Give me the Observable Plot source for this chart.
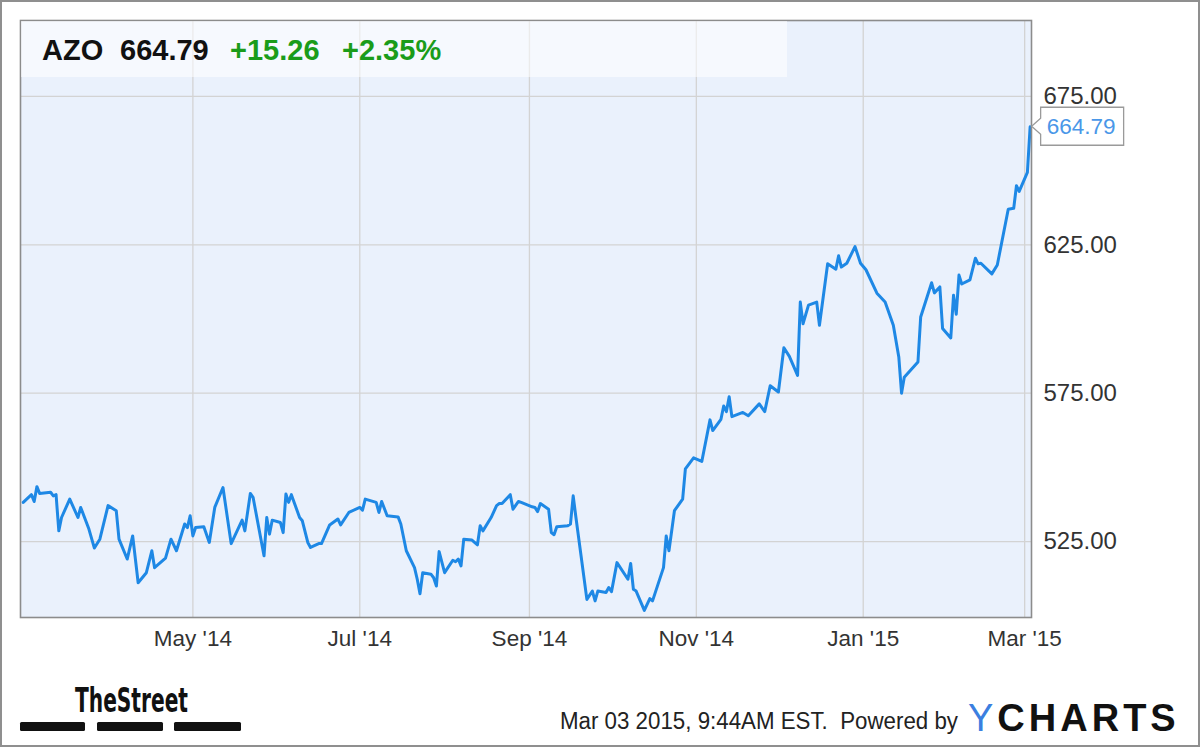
<!DOCTYPE html>
<html>
<head>
<meta charset="utf-8">
<script src="https://cdn.jsdelivr.net/npm/d3@7"></script>
<script src="https://cdn.jsdelivr.net/npm/@observablehq/plot@0.6"></script>
<style>
  html, body { margin: 0; padding: 0; background: #fff; }
  #chart { width: 1200px; height: 747px; position: relative; overflow: hidden; }
  svg { display: block; }
</style>
</head>
<body>
<div id="chart"></div>
<script>
// ---- Data ----
const dates = [
  "2014-02-28","2014-03-03","2014-03-04","2014-03-05","2014-03-06","2014-03-10","2014-03-11","2014-03-12","2014-03-13","2014-03-14",
  "2014-03-17","2014-03-20","2014-03-21","2014-03-24","2014-03-26","2014-03-28","2014-03-31","2014-04-03","2014-04-04","2014-04-07",
  "2014-04-09","2014-04-11","2014-04-14","2014-04-16","2014-04-17","2014-04-21","2014-04-23","2014-04-25","2014-04-28","2014-04-29",
  "2014-04-30","2014-05-01","2014-05-02","2014-05-05","2014-05-07","2014-05-09","2014-05-12","2014-05-15","2014-05-19","2014-05-20",
  "2014-05-22","2014-05-23","2014-05-27","2014-05-28","2014-05-29","2014-05-30","2014-06-02","2014-06-03","2014-06-04","2014-06-05",
  "2014-06-06","2014-06-09","2014-06-10","2014-06-12","2014-06-13","2014-06-16","2014-06-17","2014-06-20","2014-06-23","2014-06-24",
  "2014-06-27","2014-07-01","2014-07-02","2014-07-03","2014-07-07","2014-07-08","2014-07-09","2014-07-11","2014-07-15","2014-07-16",
  "2014-07-18","2014-07-21","2014-07-22","2014-07-23","2014-07-24","2014-07-27","2014-07-28","2014-07-29","2014-07-30","2014-08-01",
  "2014-08-04","2014-08-05","2014-08-06","2014-08-07","2014-08-08","2014-08-11","2014-08-13","2014-08-14","2014-08-15","2014-08-18",
  "2014-08-20","2014-08-21","2014-08-22","2014-08-25","2014-08-26","2014-08-28","2014-08-29","2014-09-02","2014-09-03","2014-09-04",
  "2014-09-05","2014-09-08","2014-09-09","2014-09-10","2014-09-11","2014-09-15","2014-09-16","2014-09-17","2014-09-18","2014-09-22",
  "2014-09-24","2014-09-25","2014-09-26","2014-09-29","2014-09-30","2014-10-01","2014-10-03","2014-10-07","2014-10-08","2014-10-09",
  "2014-10-10","2014-10-13","2014-10-15","2014-10-16","2014-10-20","2014-10-21","2014-10-22","2014-10-24","2014-10-27","2014-10-28",
  "2014-10-31","2014-11-03","2014-11-06","2014-11-07","2014-11-10","2014-11-11","2014-11-12","2014-11-13","2014-11-14","2014-11-18",
  "2014-11-20","2014-11-24","2014-11-26","2014-11-28","2014-12-01","2014-12-03","2014-12-05","2014-12-08","2014-12-09","2014-12-10",
  "2014-12-12","2014-12-15","2014-12-16","2014-12-19","2014-12-22","2014-12-23","2014-12-24","2014-12-26","2014-12-29","2014-12-31",
  "2015-01-02","2015-01-06","2015-01-09","2015-01-12","2015-01-14","2015-01-15","2015-01-16","2015-01-21","2015-01-22","2015-01-26",
  "2015-01-27","2015-01-29","2015-01-30","2015-02-02","2015-02-03","2015-02-04","2015-02-05","2015-02-06","2015-02-09","2015-02-11",
  "2015-02-12","2015-02-13","2015-02-17","2015-02-19","2015-02-23","2015-02-25","2015-02-26","2015-02-27","2015-03-02","2015-03-03"
];
const values = [
  538.2,540.8,538.5,543.5,541.2,541.6,540.4,540.8,528.6,533.1,
  539.3,533.1,536.5,529.2,522.8,525.8,537.1,535.4,525.8,519.1,
  526.9,511.1,514.5,521.9,516.2,519.4,525.8,521.9,530.9,529.7,
  533.7,526.9,529.7,530.0,524.7,536.5,543.2,524.3,532.2,528.6,
  541.2,539.9,520.2,533.1,527.5,532.2,531.4,528.0,541.0,538.2,
  540.8,533.1,532.0,524.7,523.0,524.3,524.3,530.6,532.6,530.6,
  534.8,536.5,535.6,539.3,538.2,534.8,538.5,533.7,533.3,530.9,
  521.9,516.2,512.3,507.4,514.5,514.0,512.8,510.0,521.6,514.5,
  518.7,518.2,519.1,516.8,525.8,525.5,523.9,530.3,528.6,533.1,
  537.1,537.8,537.8,540.8,535.9,538.5,538.2,536.7,536.5,535.1,
  537.8,535.9,528.0,527.3,530.0,530.3,530.9,540.4,533.1,505.5,
  508.3,505.0,508.3,507.8,509.5,508.1,517.9,512.3,517.6,508.9,
  508.3,501.8,505.8,505.0,516.2,526.9,521.9,535.4,539.3,549.5,
  553.2,552.0,566.0,562.4,566.2,570.7,568.8,573.8,567.1,568.5,
  567.4,571.4,568.8,577.5,575.4,590.3,587.4,581.0,605.7,598.4,
  604.7,605.7,597.9,618.6,616.8,621.3,617.5,618.8,624.4,618.8,
  616.6,608.7,605.7,597.9,587.2,575.0,580.4,585.5,600.7,612.2,
  608.8,610.8,596.8,593.6,608.0,601.6,614.8,611.8,613.2,620.5,
  618.6,618.8,615.2,618.2,637.0,637.3,644.9,643.0,649.4,664.79
];
const xTicks = ["2014-05-01","2014-07-01","2014-09-01","2014-11-01","2015-01-01","2015-03-01"];
const xTickLabels = ["May '14","Jul '14","Sep '14","Nov '14","Jan '15","Mar '15"];
const yTicks = [525, 575, 625, 675];
const ticker = "AZO";
const lastPrice = "664.79";
const change = "+15.26";
const changePct = "+2.35%";
const stamp = "Mar 03 2015, 9:44AM EST.";

// ---- Build ----
const data = dates.map((d, i) => ({date: new Date(d), value: values[i]}));
const xTickDates = xTicks.map(d => new Date(d));
const FONT = "'Liberation Sans', Arial, Helvetica, sans-serif";

const chart = Plot.plot({
  width: 1200,
  height: 747,
  marginLeft: 20,
  marginRight: 169,
  marginTop: 20,
  marginBottom: 130,
  style: {fontFamily: FONT, fontSize: "22px", color: "#333", background: "#fff"},
  x: {type: "utc", domain: [new Date("2014-02-27"), new Date("2015-03-03T12:00:00Z")], label: null},
  y: {domain: [499.4, 700.6], label: null},
  marks: [
    Plot.frame({fill: "#eaf1fc", stroke: null}),
    Plot.gridX(xTickDates, {stroke: "#d3d3d3", strokeOpacity: 1, strokeWidth: 1.3}),
    Plot.gridY(yTicks, {stroke: "#d3d3d3", strokeOpacity: 1, strokeWidth: 1.3}),
    Plot.line(data, {x: "date", y: "value", stroke: "#1e88e5", strokeWidth: 3, strokeLinejoin: "round"}),
    Plot.frame({stroke: "#8c8c8c", strokeWidth: 1.6}),
    Plot.axisX(xTickDates, {tickSize: 0, tickPadding: 13, fontSize: 22.5, fill: "#333", label: null,
      tickFormat: (d, i) => xTickLabels[i]}),
    Plot.axisY(yTicks, {anchor: "right", tickSize: 0, tickPadding: 12, fontSize: 24, fill: "#333", label: null,
      tickFormat: d => d.toFixed(2)})
  ]
});
document.getElementById("chart").append(chart);

const svg = d3.select(chart);
const xs = chart.scale("x"), ys = chart.scale("y");
const layer = svg.append("g").attr("text-anchor", "start").attr("font-family", FONT);

// header band
layer.append("rect").attr("x", 21).attr("y", 21).attr("width", 766).attr("height", 56)
  .attr("fill", "#ffffff").attr("fill-opacity", 0.55);

// header text
const ht = layer.append("text").attr("y", 60)
  .attr("font-weight", "bold").attr("font-size", 29);
ht.append("tspan").attr("x", 42).attr("fill", "#111").text(ticker);
ht.append("tspan").attr("x", 120).attr("fill", "#111").text(lastPrice);
ht.append("tspan").attr("x", 230).attr("fill", "#1a9c1a").text(change);
ht.append("tspan").attr("x", 342).attr("fill", "#1a9c1a").text(changePct);

// last value callout
const px = xs.apply(data[data.length - 1].date);
const py = ys.apply(data[data.length - 1].value);
const L = px + 11, W = 83, H = 38;
layer.append("path")
  .attr("d", `M${L},${py - H/2}H${L + W}V${py + H/2}H${L}V${py + 8}L${px + 2},${py}L${L},${py - 8}Z`)
  .attr("fill", "#fff").attr("stroke", "#9a9a9a").attr("stroke-width", 1.3);
layer.append("text").attr("x", L + 6).attr("y", py).attr("dy", "0.36em")
  .attr("font-size", 22.5).attr("fill", "#4a97e8")
  .text(values[values.length - 1].toFixed(2));

// footer: TheStreet logo
layer.append("text").attr("x", 75).attr("y", 712)
  .attr("font-family", "'Liberation Sans Narrow', 'DejaVu Sans Condensed', Arial, sans-serif")
  .attr("font-weight", "bold").attr("font-size", 34)
  .attr("textLength", 113).attr("lengthAdjust", "spacingAndGlyphs")
  .attr("fill", "#111").text("TheStreet");
[[20, 85], [97, 163], [174, 241]].forEach(([a, b]) => {
  layer.append("rect").attr("x", a).attr("y", 722).attr("width", b - a).attr("height", 9)
    .attr("rx", 1.5).attr("fill", "#111");
});

// footer: timestamp & powered by
layer.append("text").attr("x", 560).attr("y", 729)
  .attr("font-size", 23).attr("fill", "#222")
  .attr("textLength", 398).attr("lengthAdjust", "spacingAndGlyphs")
  .text(stamp + "  Powered by");

// YCHARTS logo
const yc = layer.append("text").attr("x", 968).attr("y", 731)
  .attr("font-size", 38).attr("letter-spacing", 4);
yc.append("tspan").attr("fill", "#3b7fe0").attr("font-weight", "normal").text("Y");
yc.append("tspan").attr("fill", "#111").attr("font-weight", "bold").text("CHARTS");

// outer border
layer.append("rect").attr("x", 1).attr("y", 1).attr("width", 1198).attr("height", 745)
  .attr("fill", "none").attr("stroke", "#8f8f8f").attr("stroke-width", 2);
</script>
</body>
</html>
